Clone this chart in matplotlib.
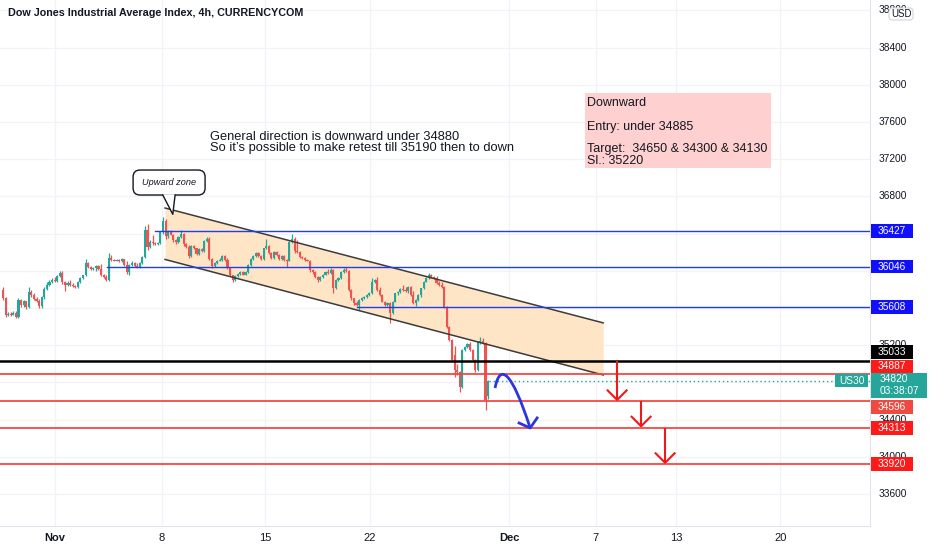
import matplotlib
matplotlib.use("Agg")
import matplotlib.pyplot as plt
from matplotlib.patches import Rectangle, FancyBboxPatch, Polygon, PathPatch
from matplotlib.path import Path
from matplotlib.transforms import IdentityTransform
from matplotlib.lines import Line2D
import numpy as np

plt.rcParams['font.family'] = ['Liberation Sans', 'DejaVu Sans']

# ---------------- data ----------------
opens = [35793, 35708, 35525, 35540, 35530, 35550, 35500, 35690, 35630, 35670,
         35610, 35775, 35740, 35700, 35680, 35620, 35720, 35800, 35850, 35880,
         35905, 35890, 35940, 35980, 35880, 35850, 35870, 35850, 35840, 35830,
         35880, 35920, 35950, 36080, 36040, 36020, 36030, 36050, 36020, 35960,
         35935, 35900, 36140, 36120, 36110, 36115, 36100, 36125, 36060, 35990,
         36060, 36080, 36050, 36040, 36080, 36150, 36440, 36260, 36310, 36300,
         36290, 36295, 36420,
         36530, 36370, 36420, 36390, 36330, 36310, 36360, 36400, 36290, 36260,
         36160, 36270, 36240, 36180, 36230, 36210, 36320, 36340, 36130, 36050,
         36080, 36110, 36120, 36160, 36120, 36030, 35950, 35900, 35940, 35970,
         35990, 35960, 35990, 36060, 36130, 36160, 36190, 36160, 36130, 36240,
         36270, 36190, 36140, 36200, 36170, 36130, 36160, 36120, 36110, 36310,
         36340, 36210, 36200, 36150, 36140, 36120, 36110, 36010, 35990, 35935,
         35900, 35935, 35960,
         35990, 35975, 36010, 35812, 35900, 35920, 35990, 36010, 35995, 35793,
         35704, 35650, 35635, 35686, 35705, 35720, 35740, 35757, 35882, 35900,
         35793, 35740, 35667, 35632, 35650, 35543, 35667, 35757, 35770, 35800,
         35790, 35780, 35829, 35740, 35650, 35686, 35740, 35811, 35882, 35919,
         35955, 35937, 35920, 35865, 35847, 35829, 35614, 35399, 35256, 35100,
         34934, 34912, 34751, 35148, 35181, 35213, 35148, 35041, 34934, 35235,
         35245, 35224, 34650]
highs = [35826, 35720, 35560, 35555, 35565, 35570, 35710, 35700, 35690, 35680,
         35830, 35790, 35760, 35720, 35700, 35730, 35830, 35880, 35900, 35925,
         35930, 35950, 35995, 36000, 35890, 35890, 35900, 35870, 35850, 35890,
         35930, 35960, 36130, 36090, 36050, 36040, 36060, 36060, 36070, 35970,
         35950, 36190, 36170, 36130, 36130, 36130, 36140, 36130, 36100, 36070,
         36100, 36090, 36080, 36090, 36160, 36480, 36500, 36330, 36380, 36310,
         36310, 36430, 36580,
         36560, 36440, 36440, 36400, 36340, 36370, 36440, 36410, 36300, 36280,
         36280, 36280, 36250, 36240, 36240, 36330, 36360, 36360, 36140, 36090,
         36120, 36140, 36170, 36170, 36140, 36040, 35960, 35950, 35980, 36000,
         36000, 36000, 36070, 36140, 36170, 36200, 36200, 36170, 36250, 36340,
         36280, 36200, 36210, 36210, 36180, 36170, 36170, 36130, 36320, 36400,
         36360, 36330, 36210, 36160, 36150, 36130, 36120, 36020, 36000, 35945,
         35945, 35970, 36000,
         36020, 36030, 36020, 35910, 35935, 36000, 36030, 36045, 36005, 35800,
         35710, 35670, 35695, 35715, 35730, 35750, 35770, 35920, 35915, 35930,
         35830, 35750, 35680, 35660, 35660, 35675, 35765, 35780, 35810, 35850,
         35830, 35840, 35840, 35785, 35695, 35750, 35820, 35890, 35930, 35975,
         35965, 35945, 35945, 35890, 35875, 35840, 35625, 35410, 35265, 35190,
         35000, 34925, 35160, 35195, 35225, 35230, 35160, 35050, 35250, 35290,
         35280, 35235, 34830]
lows = [35686, 35503, 35510, 35515, 35520, 35490, 35490, 35610, 35610, 35590,
        35600, 35720, 35690, 35660, 35600, 35600, 35700, 35790, 35840, 35870,
        35880, 35880, 35930, 35860, 35780, 35840, 35840, 35830, 35810, 35820,
        35870, 35910, 35940, 36030, 36010, 36005, 36000, 36010, 35940, 35920,
        35890, 35890, 36110, 36100, 36100, 36090, 36090, 36050, 35970, 35960,
        36050, 36040, 36030, 36030, 36070, 36140, 36225, 36250, 36280, 36280,
        36280, 36285, 36400,
        36340, 36350, 36380, 36310, 36290, 36300, 36350, 36270, 36240, 36140,
        36150, 36230, 36170, 36170, 36200, 36200, 36310, 36120, 36030, 36040,
        36070, 36100, 36110, 36110, 36020, 35940, 35880, 35890, 35930, 35955,
        35950, 35950, 35980, 36050, 36120, 36150, 36150, 36120, 36120, 36230,
        36180, 36130, 36130, 36160, 36120, 36120, 36110, 36040, 36100, 36300,
        36190, 36190, 36140, 36130, 36110, 36100, 35990, 35970, 35920, 35880,
        35890, 35925, 35950,
        35965, 35965, 35760, 35800, 35890, 35910, 35980, 35985, 35780, 35690,
        35630, 35620, 35578, 35680, 35700, 35710, 35730, 35750, 35870, 35780,
        35730, 35660, 35620, 35625, 35435, 35540, 35660, 35745, 35760, 35785,
        35775, 35765, 35730, 35640, 35620, 35680, 35715, 35800, 35875, 35910,
        35925, 35910, 35855, 35835, 35815, 35600, 35385, 35240, 35030, 34858,
        34880, 34697, 34740, 35140, 35170, 35140, 35030, 34912, 34920, 35215,
        35215, 34503, 34620]
closes = [35708, 35525, 35540, 35530, 35550, 35500, 35690, 35630, 35670, 35610,
          35775, 35740, 35700, 35680, 35620, 35720, 35800, 35850, 35880, 35905,
          35890, 35940, 35980, 35880, 35850, 35870, 35850, 35840, 35830, 35880,
          35920, 35950, 36080, 36040, 36020, 36030, 36050, 36020, 35960, 35935,
          35900, 36140, 36120, 36110, 36115, 36100, 36125, 36060, 35990, 36060,
          36080, 36050, 36040, 36080, 36150, 36440, 36260, 36310, 36300, 36290,
          36295, 36420, 36530,
          36370, 36420, 36390, 36330, 36310, 36360, 36400, 36290, 36260, 36160,
          36270, 36240, 36180, 36230, 36210, 36320, 36340, 36130, 36050, 36080,
          36110, 36120, 36160, 36120, 36030, 35950, 35900, 35940, 35970, 35990,
          35960, 35990, 36060, 36130, 36160, 36190, 36160, 36130, 36240, 36270,
          36190, 36140, 36200, 36170, 36130, 36160, 36120, 36110, 36310, 36340,
          36210, 36200, 36150, 36140, 36120, 36110, 36010, 35990, 35935, 35900,
          35935, 35960, 35990,
          35975, 36010, 35812, 35900, 35920, 35990, 36010, 35995, 35793, 35704,
          35650, 35635, 35686, 35705, 35720, 35740, 35757, 35882, 35900, 35793,
          35740, 35667, 35632, 35650, 35543, 35667, 35757, 35770, 35800, 35790,
          35780, 35829, 35740, 35650, 35686, 35740, 35811, 35882, 35919, 35955,
          35937, 35920, 35865, 35847, 35829, 35614, 35399, 35256, 35041, 34934,
          34912, 34751, 35148, 35181, 35213, 35148, 35041, 34934, 35235, 35245,
          35224, 34611, 34820]

title = "Dow Jones Industrial Average Index, 4h, CURRENCYCOM"
xtick_pos = [20.2, 61.6, 101.6, 142.2, 196.1, 229.8, 260.9, 301.2]
xtick_labels = ["Nov", "8", "15", "22", "Dec", "7", "13", "20"]
ytick_vals = [33600, 34000, 34400, 34800, 35200, 35600, 36000, 36400,
              36800, 37200, 37600, 38000, 38400, 38800]

ray_levels = [36427, 36046, 35608]
ray_starts = [58.9, 40.3, 137.2]
black_level = 35033
red_levels = [34887, 34596, 34313, 33920]
last_price = 34820
countdown = "03:38:07"
symbol = "US30"

channel_x = [62.8, 232.6]
channel_upper = [36675, 35440]
channel_lower = [36122, 34880]

arrow_x = [238.0, 247.3, 256.6]
arrow_from = [35033, 34596, 34313]
arrow_to = [34596, 34313, 33920]

blue_curve_x = [190.7, 192.6, 197.3, 204.3]
blue_curve_y = [34740, 35020, 34912, 34310]
blue_head_x = [200.0, 204.3, 207.0]
blue_head_y = [34364, 34310, 34418]

callout_tip = (65.8, 36607)
callout_text = "Upward zone"

note_lines = ["General direction is downward under 34880",
              "So it\u2019s possible to make retest till 35190 then to down"]
note_x = 80.2
note_y = [37440, 37322]

plan_box_x = [225.6, 297.7]
plan_box_y = [37105, 37911]
plan_lines = ["Downward", "Entry: under 34885", "Target:  34650 & 34300 & 34130", "Sl.: 35220"]
plan_y = [37805, 37545, 37312, 37185]

# ---------------- figure ----------------
W, H = 932, 550
fig = plt.figure(figsize=(W / 100, H / 100), dpi=100)
fig.patch.set_facecolor("white")
ax = fig.add_axes([0, 24 / H, 870 / W, 526 / H])
ax2 = fig.add_axes([870 / W, 24 / H, 62 / W, 526 / H])

xmin, xmax = -1.163, 336.0
ymin, ymax = 33256.5, 38911
ax.set_xlim(xmin, xmax)
ax.set_ylim(ymin, ymax)
ax2.set_xlim(0, 62)
ax2.set_ylim(ymin, ymax)
ax2.axis("off")

ppx = (ymax - ymin) / 526.0          # price per pixel
ipx = (xmax - xmin) / 870.0          # index per pixel

for s in ["top", "left"]:
    ax.spines[s].set_visible(False)
ax.spines["right"].set_color("#e0e3eb")
ax.spines["bottom"].set_color("#e0e3eb")

# grid
ax.set_yticks(ytick_vals)
ax.set_yticklabels([])
ax.tick_params(axis="y", length=0)
ax.set_xticks(xtick_pos)
ax.set_xticklabels(xtick_labels, fontsize=8.0, color="#131722")
for lbl in ax.get_xticklabels():
    if lbl.get_text() in ("Nov", "Dec"):
        lbl.set_fontweight("bold")
ax.tick_params(axis="x", length=0, pad=5)
ax.grid(True, color="#f0f3fa", lw=0.9, zorder=0)
ax.set_axisbelow(True)

# channel
cx = np.array(channel_x)
ax.fill_between(cx, channel_lower, channel_upper, color="#fee5c6", zorder=1, lw=0)
ax.plot(cx, channel_upper, color="#3b3b3b", lw=1.1, zorder=5)
ax.plot(cx, channel_lower, color="#3b3b3b", lw=1.1, zorder=5)

# candles
idx = np.arange(len(closes))
o = np.array(opens, float)
c = np.array(closes, float)
colors = np.where(c >= o, "#26a69a", "#ef5350")
ax.vlines(idx, lows, highs, colors=colors, lw=0.9, zorder=3)
ax.bar(idx, np.maximum(np.abs(c - o), 8), bottom=np.minimum(o, c), width=0.82,
       color=colors, lw=0, zorder=4)

# horizontal levels
for lvl, st in zip(ray_levels, ray_starts):
    ax.plot([st, xmax], [lvl, lvl], color="#1f3df5", lw=1.0, zorder=6)
ax.axhline(black_level, color="#000000", lw=1.8, zorder=6)
for lvl in red_levels:
    ax.axhline(lvl, color="#f5443f", lw=1.4, zorder=6, alpha=0.9)
ax.plot([idx[-1] + 0.5, xmax], [last_price, last_price], color="#26a69a", lw=1.0,
        ls=(0, (1, 2)), zorder=6)

# red arrows
wx = 9.5 * ipx
wy = 9.5 * ppx
for x, a, b in zip(arrow_x, arrow_from, arrow_to):
    tip = b + 1.5 * ppx
    ax.plot([x, x], [a, tip], color="#f01818", lw=1.5, zorder=7, solid_capstyle="butt")
    ax.plot([x - wx, x, x + wx], [tip + wy, tip, tip + wy], color="#f01818", lw=1.5, zorder=7)

# blue curved arrow
verts = list(zip(blue_curve_x, blue_curve_y))
path = Path(verts, [Path.MOVETO, Path.CURVE4, Path.CURVE4, Path.CURVE4])
ax.add_patch(PathPatch(path, fc="none", ec="#2b35e0", lw=2.0, zorder=7))
ax.plot(blue_head_x, blue_head_y, color="#2b35e0", lw=2.0, zorder=7)

# notes
for t, yv in zip(note_lines, note_y):
    ax.text(note_x, yv, t, fontsize=9.3, color="#131722", va="center", ha="left", zorder=8)

ax.add_patch(Rectangle((plan_box_x[0], plan_box_y[0]), plan_box_x[1] - plan_box_x[0],
                       plan_box_y[1] - plan_box_y[0], fc="#ffd0d0", ec="none", zorder=7))
for t, yv in zip(plan_lines, plan_y):
    ax.text(plan_box_x[0] + 0.8, yv, t, fontsize=9.0, color="#131722", va="center",
            ha="left", zorder=8)

# callout "Upward zone" (pixel offsets from the tip)
tx, ty = ax.transData.transform(callout_tip)
bx0, bx1 = tx - 39.7, tx + 32.3
by0, by1 = ty + 19.3, ty + 44.3
fig.add_artist(FancyBboxPatch((bx0, by0), bx1 - bx0, by1 - by0,
                              boxstyle="round,pad=0,rounding_size=7",
                              transform=IdentityTransform(), fc="white", ec="#131722",
                              lw=1.0, zorder=9))
fig.add_artist(Polygon([(tx - 10, by0 + 0.8), (tx, ty), (tx + 2.3, by0 + 0.8)],
                       closed=True, transform=IdentityTransform(), fc="white", ec="none",
                       zorder=10))
fig.add_artist(Line2D([tx - 10, tx, tx + 2.3], [by0, ty, by0], transform=IdentityTransform(),
                      color="#131722", lw=1.0, zorder=11))
fig.text((bx0 + bx1) / 2 / W, (by0 + by1) / 2 / H, callout_text, fontsize=6.6,
         style="italic", ha="center", va="center", color="#131722", zorder=12)

# title
fig.text(8 / W, 1 - 13 / H, title, fontsize=7.75, fontweight="bold", color="#131722",
         ha="left", va="center")

# price labels (color boxes)
boxes = [(ray_levels[0], "#1010ff", 0), (ray_levels[1], "#1010ff", 0),
         (ray_levels[2], "#1010ff", 0), (black_level, "#000000", 9),
         (red_levels[0], "#ff1a1a", 8), (red_levels[1], "#f04a40", -5.5),
         (red_levels[2], "#ff1a1a", 0), (red_levels[3], "#ff1a1a", 0)]
box_centers = [p + off * ppx for p, _, off in boxes] + [last_price - 5 * ppx]

# price scale tick labels (those mostly covered by a label box are hidden)
for v in ytick_vals:
    if min(abs(v - bc) for bc in box_centers) < 6 * ppx:
        continue
    ax2.text(9, v, f"{v}", fontsize=7.3, color="#131722", va="center", ha="left", zorder=2)


def price_box(price, color, off_px=0.0, x0=0.7, w=42.6, h=13.6):
    cy = price + off_px * ppx
    ax2.add_patch(Rectangle((x0, cy - h / 2 * ppx), w, h * ppx, fc=color, ec="none", zorder=5,
                            clip_on=False))
    ax2.text(x0 + w / 2, cy, f"{price}", fontsize=7.3, color="white",
             ha="center", va="center", zorder=6)


for p, col, off in boxes:
    price_box(p, col, off)

# current price box
ax2.add_patch(Rectangle((0.7, last_price - 17.4 * ppx), 56, 25 * ppx, fc="#26a69a", ec="none",
                        zorder=7, clip_on=False))
ax2.text(10, last_price + 1.5 * ppx, f"{last_price}", fontsize=7.3, color="white", ha="left",
         va="center", zorder=8)
ax2.text(10, last_price - 10.5 * ppx, countdown, fontsize=7.3, color="white", ha="left",
         va="center", zorder=8)

# symbol label left of scale
_, ly = ax.transData.transform((0, last_price))
fig.add_artist(Rectangle((835, ly - 6.5), 33, 13, transform=IdentityTransform(),
                         fc="#26a69a", ec="none", zorder=9))
fig.text(851.5 / W, ly / H, symbol, fontsize=7.3, color="white", ha="center", va="center",
         zorder=10)

# USD box
fig.add_artist(FancyBboxPatch((889, H - 20), 24, 12, boxstyle="round,pad=0,rounding_size=3",
                              transform=IdentityTransform(), fc="white", ec="#d1d4dc",
                              lw=0.8, zorder=9))
fig.text(901 / W, 1 - 14 / H, "USD", fontsize=7.0, color="#131722", ha="center", va="center",
         zorder=10)

fig.savefig("out.png", dpi=100, facecolor="white")
